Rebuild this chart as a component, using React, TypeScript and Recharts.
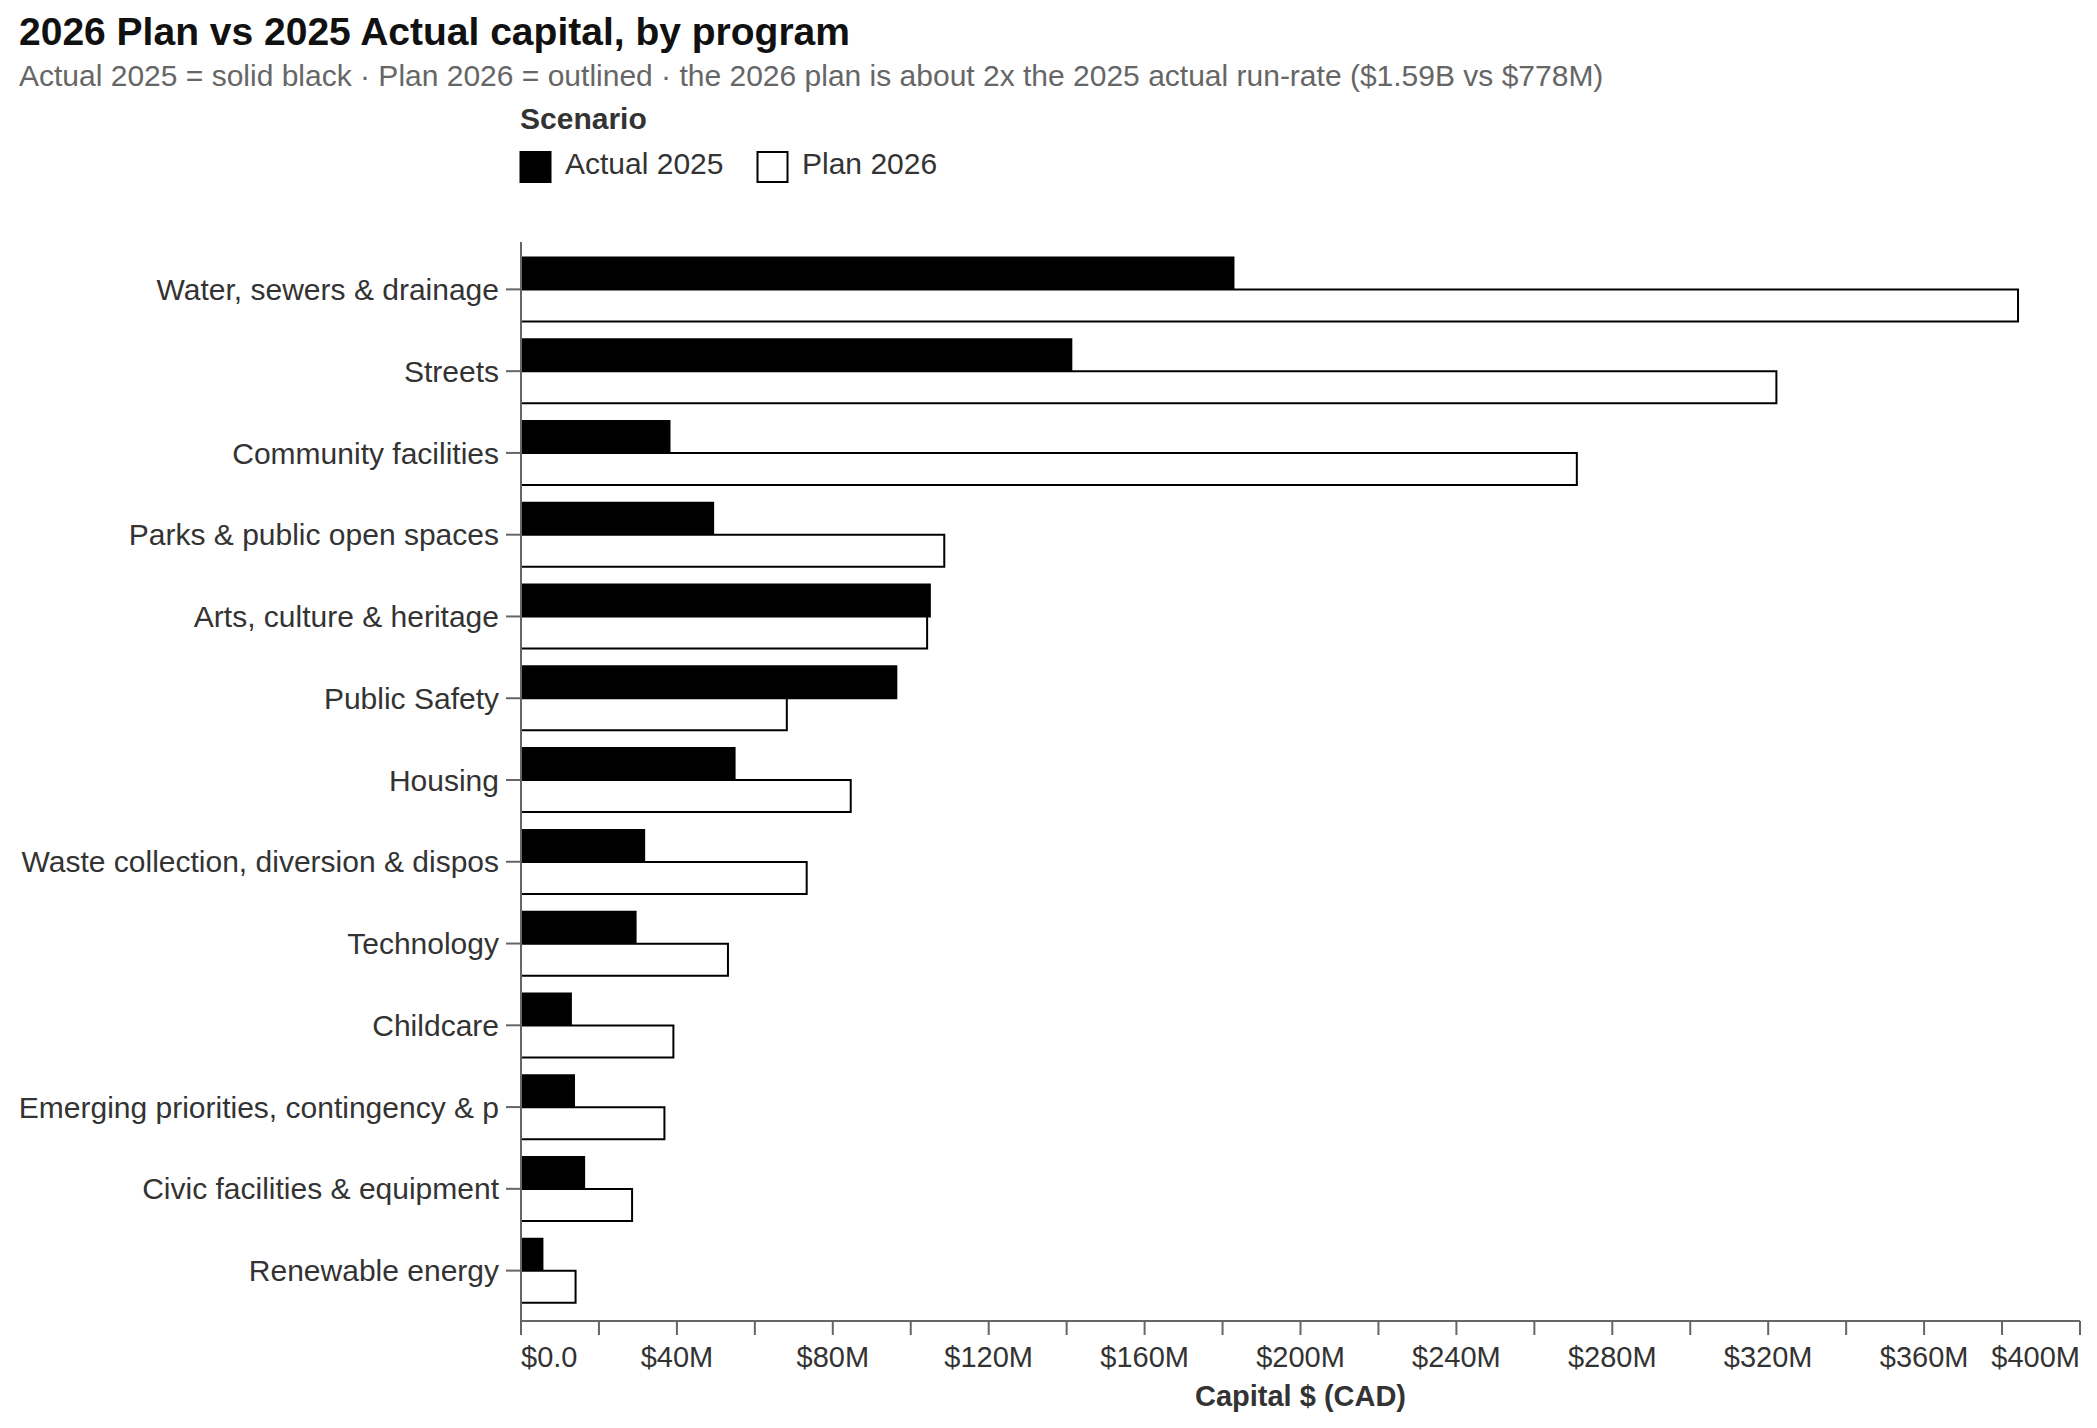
import React from 'react';
import { BarChart, Bar, XAxis, YAxis, Legend } from 'recharts';

const FONT = '"Liberation Sans", Arial, Helvetica, sans-serif';

// program names as shown on the axis (long ones are cut off in the source)
const programs = [
  'Water, sewers & drainage',
  'Streets',
  'Community facilities',
  'Parks & public open spaces',
  'Arts, culture & heritage',
  'Public Safety',
  'Housing',
  'Waste collection, diversion & dispos',
  'Technology',
  'Childcare',
  'Emerging priorities, contingency & p',
  'Civic facilities & equipment',
  'Renewable energy',
];

// capital, $ millions
const actual2025 = [182.8, 141.2, 38.1, 49.3, 104.9, 96.3, 54.8, 31.6, 29.4, 12.8, 13.6, 16.2, 5.5];
const plan2026 = [384.1, 322.1, 270.9, 108.6, 104.2, 68.2, 84.6, 73.3, 53.1, 39.1, 36.8, 28.5, 14.0];

const xTicks = [0, 20, 40, 60, 80, 100, 120, 140, 160, 180, 200, 220, 240, 260, 280, 300, 320, 340, 360, 380, 400];
const xLabelEvery = 40;

const series = [
  { key: 'actual', name: 'Actual 2025', fill: '#000000' },
  { key: 'plan', name: 'Plan 2026', fill: '#ffffff' },
];

const data = programs.map((program, i) => ({
  program,
  actual: actual2025[i],
  plan: plan2026[i],
}));

const fmtMoney = (v: number) => (v === 0 ? '$0.0' : `$${v}M`);

const XTick = (props: any) => {
  const { x, y, payload } = props;
  const v = payload.value as number;
  if (v % xLabelEvery !== 0) return <g />;
  const last = xTicks[xTicks.length - 1];
  const anchor = v === 0 ? 'start' : v === last ? 'end' : 'middle';
  return (
    <text x={x} y={y} dy="0.71em" textAnchor={anchor} fill="#333" fontSize={29} fontFamily={FONT}>
      {fmtMoney(v)}
    </text>
  );
};

const renderLegend = (props: any) => {
  const payload = props.payload || [];
  return (
    <svg width={600} height={100} style={{ display: 'block' }}>
      <text x={20} y={29.3} fontSize={30} fontWeight={700} fill="#333" fontFamily={FONT}>
        Scenario
      </text>
      {payload.map((entry: any, i: number) => {
        const s = series.find((d) => d.key === entry.dataKey) || series[i];
        const x0 = i === 0 ? 20.5 : 257.5;
        return (
          <g key={s.key}>
            <rect x={x0} y={52} width={30} height={30} fill={s.fill} stroke="#000" strokeWidth={2} />
            <text x={x0 + 44.5} y={74} fontSize={30} fill="#333" fontFamily={FONT}>
              {entry.value}
            </text>
          </g>
        );
      })}
    </svg>
  );
};

const App: React.FC = () => {
  return (
    <div
      style={{
        position: 'absolute',
        left: 0,
        top: 0,
        width: 2097,
        height: 1428,
        background: '#fff',
        fontFamily: FONT,
      }}
    >
      <svg width={2097} height={110} style={{ position: 'absolute', left: 0, top: 0 }}>
        <text x={19} y={45} fontSize={39} fontWeight={700} fill="#111" fontFamily={FONT}>
          2026 Plan vs 2025 Actual capital, by program
        </text>
        <text x={19} y={86} fontSize={30} fill="#666" fontFamily={FONT}>
          Actual 2025 = solid black · Plan 2026 = outlined · the 2026 plan is about 2x the 2025 actual run-rate ($1.59B vs $778M)
        </text>
      </svg>
      <div style={{ position: 'absolute', left: 0, top: 0 }}>
        <BarChart
          width={2097}
          height={1428}
          data={data}
          layout="vertical"
          margin={{ top: 242, right: 17, bottom: 0, left: 0 }}
          barGap={0}
          barSize={32}
        >
          <XAxis
            type="number"
            domain={[0, 400]}
            ticks={xTicks}
            interval={0}
            height={107}
            tickSize={14}
            tickMargin={11}
            tick={<XTick />}
            axisLine={{ stroke: '#666', strokeWidth: 2 }}
            tickLine={{ stroke: '#666', strokeWidth: 2 }}
            label={{
              value: 'Capital $ (CAD)',
              position: 'insideBottom',
              offset: 22,
              fill: '#333',
              fontSize: 29,
              fontWeight: 700,
              fontFamily: FONT,
            }}
          />
          <YAxis
            type="category"
            dataKey="program"
            width={521}
            interval={0}
            tickSize={15}
            tickMargin={7}
            padding={{ top: 6.5, bottom: 9.5 }}
            tick={{ fill: '#333', fontSize: 30, fontFamily: FONT }}
            axisLine={{ stroke: '#666', strokeWidth: 2 }}
            tickLine={{ stroke: '#666', strokeWidth: 2 }}
          />
          <Legend
            layout="vertical"
            align="center"
            verticalAlign="middle"
            content={renderLegend}
            wrapperStyle={{ left: 500, top: 100, width: 600, height: 100 }}
          />
          {series.map((s) => (
            <Bar
              key={s.key}
              dataKey={s.key}
              name={s.name}
              fill={s.fill}
              stroke="#000"
              strokeWidth={2}
              isAnimationActive={false}
            />
          ))}
        </BarChart>
      </div>
    </div>
  );
};

export default App;
